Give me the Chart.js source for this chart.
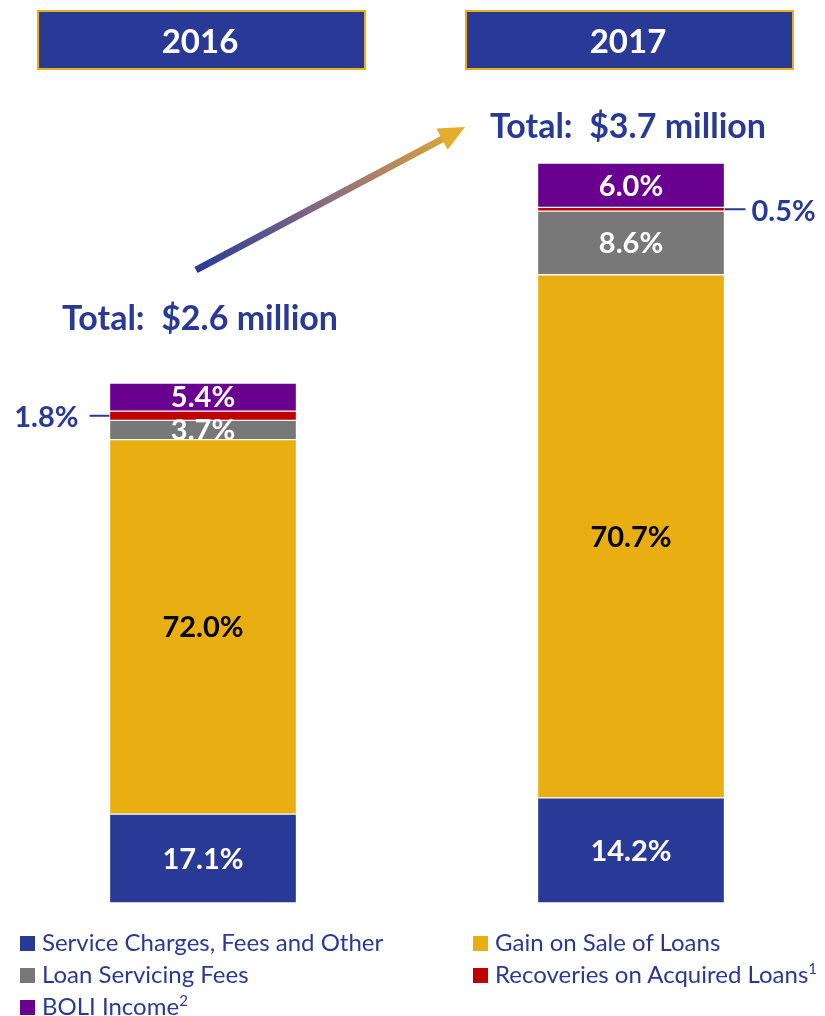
<!DOCTYPE html>
<html>
<head>
<meta charset="utf-8">
<script src="https://cdn.jsdelivr.net/npm/chart.js@4/dist/chart.umd.min.js"></script>
<style>
  html, body { margin: 0; padding: 0; background: #fff; }
  #wrap { position: relative; width: 825px; height: 1016px; }
  #chart { position: absolute; left: 0; top: 0; }
  .legend { position: absolute; font-family: Lato, sans-serif; font-size: 24px; color: #283A96; white-space: nowrap; }
  .legend span.sw { display: inline-block; width: 15px; height: 15px; margin-right: 7px; vertical-align: 0px; }
  .legend sup { font-size: 15px; vertical-align: 9px; line-height: 0; }
</style>
</head>
<body>
<div id="wrap">
  <canvas id="chart" width="825" height="1016"></canvas>
  <div class="legend" style="left:20px; top:927px;"><span class="sw" style="background:#283A96"></span>Service Charges, Fees and Other</div>
  <div class="legend" style="left:473px; top:927px;"><span class="sw" style="background:#E9AF12"></span>Gain on Sale of Loans</div>
  <div class="legend" style="left:20px; top:959px;"><span class="sw" style="background:#787878"></span>Loan Servicing Fees</div>
  <div class="legend" style="left:473px; top:959px;"><span class="sw" style="background:#C00000"></span>Recoveries on Acquired Loans<sup>1</sup></div>
  <div class="legend" style="left:20px; top:991px;"><span class="sw" style="background:#6A008F"></span>BOLI Income<sup>2</sup></div>
</div>
<script>
// Noninterest income mix, $ millions total and % share per source
const years = ['2016', '2017'];
const totals = [2.6, 3.7];
const serviceCharges = [17.1, 14.2];
const gainOnSale = [72.0, 70.7];
const loanServicing = [3.7, 8.6];
const recoveries = [1.8, 0.5];
const boliIncome = [5.4, 6.0];

const BLUE = '#283A96';
const GOLD = '#E9AF12';
const GREY = '#787878';
const RED = '#C00000';
const PURPLE = '#6A008F';
const FONT = 'Lato, "Open Sans", sans-serif';

// segment heights in $ millions, so each bar stands as tall as its total
const dollars = pct => pct.map((p, i) => p / 100 * totals[i]);

const series = [
  { label: 'Service Charges, Fees and Other', pct: serviceCharges, color: BLUE, text: '#fff' },
  { label: 'Gain on Sale of Loans', pct: gainOnSale, color: GOLD, text: '#000' },
  { label: 'Loan Servicing Fees', pct: loanServicing, color: GREY, text: '#fff' },
  { label: 'Recoveries on Acquired Loans', pct: recoveries, color: RED, text: null },
  { label: 'BOLI Income', pct: boliIncome, color: PURPLE, text: '#fff' }
];

const labelsPlugin = {
  id: 'mixLabels',
  afterDatasetsDraw(chart) {
    const ctx = chart.ctx;
    ctx.save();
    ctx.textAlign = 'center';
    ctx.textBaseline = 'middle';

    // percent labels inside segments, callouts for the thin red slice
    chart.data.datasets.forEach((ds, di) => {
      const meta = chart.getDatasetMeta(di);
      meta.data.forEach((bar, i) => {
        const pct = series[di].pct[i].toFixed(1) + '%';
        const mid = (bar.y + bar.base) / 2;
        ctx.font = 'bold 29px ' + FONT;
        if (series[di].text) {
          ctx.fillStyle = series[di].text;
          ctx.fillText(pct, bar.x, mid + 1);
        } else {
          const half = bar.width / 2;
          ctx.strokeStyle = BLUE;
          ctx.lineWidth = 2;
          ctx.fillStyle = BLUE;
          ctx.beginPath();
          if (i === 0) {
            ctx.moveTo(bar.x - half - 20, mid);
            ctx.lineTo(bar.x - half, mid);
            ctx.stroke();
            ctx.textAlign = 'right';
            ctx.fillText(pct, bar.x - half - 31, mid + 2);
          } else {
            ctx.moveTo(bar.x + half, mid);
            ctx.lineTo(bar.x + half + 21, mid);
            ctx.stroke();
            ctx.textAlign = 'left';
            ctx.fillText(pct, bar.x + half + 27, mid + 2);
          }
          ctx.textAlign = 'center';
        }
      });
    });

    // year header boxes and totals
    const top = chart.getDatasetMeta(chart.data.datasets.length - 1).data;
    const totalGap = [64, 36];
    top.forEach((bar, i) => {
      ctx.fillStyle = BLUE;
      ctx.fillRect(bar.x - 165, 11, 327, 58);
      ctx.strokeStyle = GOLD;
      ctx.lineWidth = 2;
      ctx.strokeRect(bar.x - 165, 11, 327, 58);
      ctx.fillStyle = '#fff';
      ctx.font = 'bold 33px ' + FONT;
      ctx.fillText(years[i], bar.x - 3, 42);

      ctx.fillStyle = BLUE;
      ctx.font = 'bold 34px ' + FONT;
      ctx.fillText('Total:  $' + totals[i].toFixed(1) + ' million', bar.x - 3, bar.y - totalGap[i]);
    });

    // growth arrow between the two totals
    const x0 = 196, y0 = 270, x1 = 465, y1 = 127;
    const ang = Math.atan2(y1 - y0, x1 - x0);
    const grad = ctx.createLinearGradient(x0, y0, x1, y1);
    grad.addColorStop(0, '#283A96');
    grad.addColorStop(0.5, '#8C6E80');
    grad.addColorStop(1, '#E5AC2E');
    const hx = x1 - 26 * Math.cos(ang), hy = y1 - 26 * Math.sin(ang);
    ctx.strokeStyle = grad;
    ctx.lineWidth = 7;
    ctx.lineCap = 'butt';
    ctx.beginPath();
    ctx.moveTo(x0, y0);
    ctx.lineTo(hx + 2 * Math.cos(ang), hy + 2 * Math.sin(ang));
    ctx.stroke();
    ctx.fillStyle = '#E5AC2E';
    ctx.beginPath();
    ctx.moveTo(x1, y1);
    ctx.lineTo(hx + 12 * Math.sin(ang), hy - 12 * Math.cos(ang));
    ctx.lineTo(hx - 12 * Math.sin(ang), hy + 12 * Math.cos(ang));
    ctx.closePath();
    ctx.fill();
    ctx.restore();
  }
};

new Chart(document.getElementById('chart'), {
  type: 'bar',
  data: {
    labels: years,
    datasets: series.map(s => ({
      label: s.label,
      data: dollars(s.pct),
      backgroundColor: s.color,
      borderColor: 'rgba(255, 255, 255, 0.35)',
      borderWidth: 1,
      borderSkipped: false,
      barThickness: 187,
      clip: false
    }))
  },
  options: {
    responsive: false,
    animation: false,
    layout: { padding: { left: 203, right: 194, top: 103, bottom: 113 } },
    plugins: {
      legend: { display: false },
      tooltip: { enabled: false }
    },
    scales: {
      x: { stacked: true, offset: false, display: false },
      y: { stacked: true, min: 0, max: 4, display: false }
    }
  },
  plugins: [labelsPlugin]
});
</script>
</body>
</html>
